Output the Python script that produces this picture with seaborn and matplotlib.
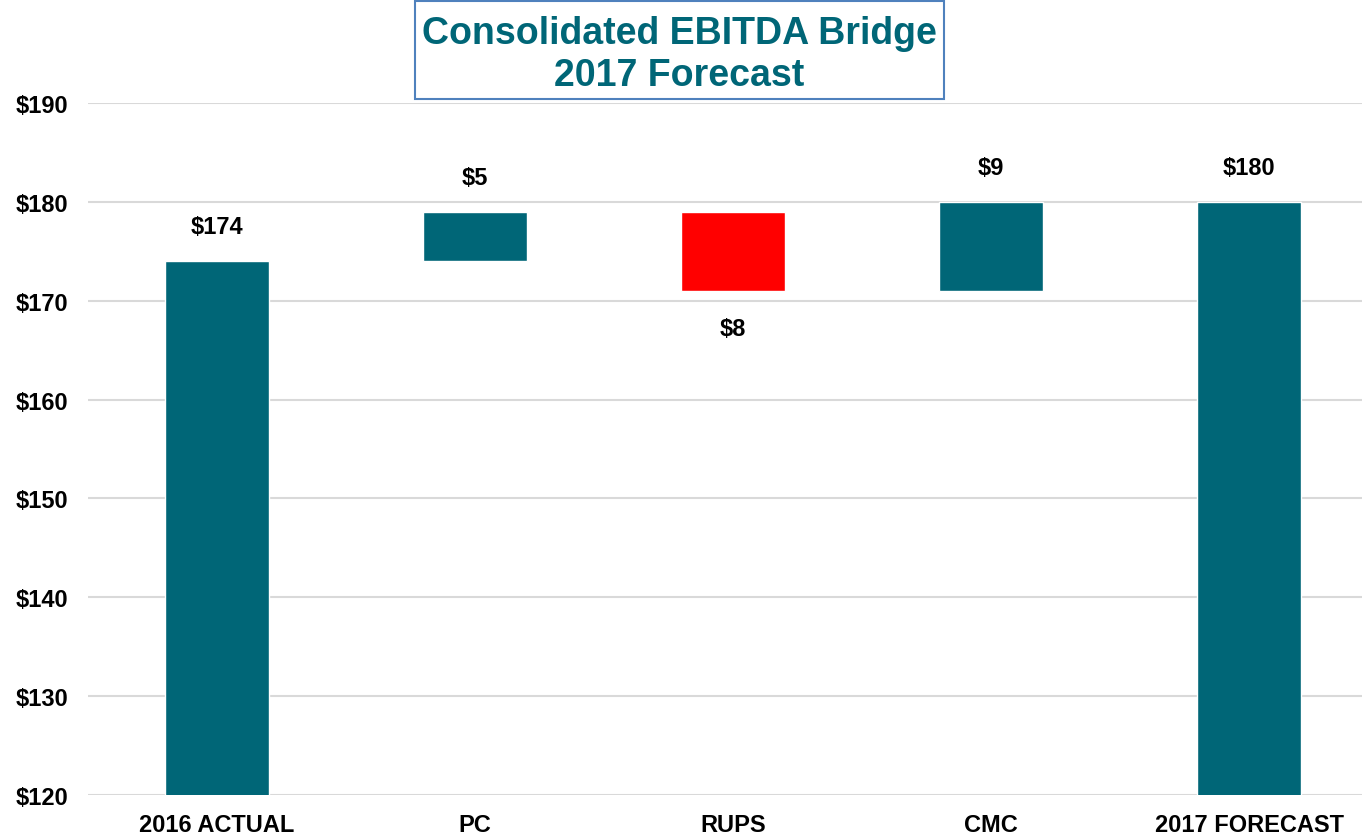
import matplotlib
matplotlib.use("Agg")
import matplotlib.pyplot as plt
import seaborn as sns
import pandas as pd
from matplotlib.patches import Rectangle

# Data
categories = ["2016 ACTUAL", "PC", "RUPS", "CMC", "2017 FORECAST"]
changes = [174, 5, -8, 9, 180]
kinds = ["total", "up", "down", "up", "total"]
labels = ["$174", "$5", "$8", "$9", "$180"]
y_ticks = [120, 130, 140, 150, 160, 170, 180, 190]

TEAL = "#006677"
RED = "#FF0000"

# build waterfall bottoms / tops
bottoms, tops = [], []
running = 0
for c, k in zip(changes, kinds):
    if k == "total":
        bottoms.append(0)
        tops.append(c)
        running = c
    else:
        start = running
        running = running + c
        bottoms.append(min(start, running))
        tops.append(max(start, running))

df = pd.DataFrame({"category": categories, "height": [t - b for t, b in zip(tops, bottoms)],
                   "kind": ["down" if k == "down" else "up" for k in kinds]})

sns.set_theme(style="white")
plt.rcParams["font.family"] = ["Liberation Sans", "DejaVu Sans"]
plt.rcParams["font.weight"] = "bold"

fig = plt.figure(figsize=(13.62, 8.37), dpi=100)
ax = fig.add_axes([88 / 1362, 41 / 837, 1290 / 1362, 692 / 837])

for y in y_ticks:
    ax.axhline(y, color="#d9d9d9", lw=1.5, zorder=0)

sns.barplot(data=df, x="category", y="height", hue="kind", order=categories,
            palette={"up": TEAL, "down": RED}, dodge=False, legend=False,
            width=0.403, saturation=1, ax=ax, zorder=2)

# move floating bars to their base
for p in ax.patches:
    idx = int(round(p.get_x() + p.get_width() / 2))
    p.set_y(bottoms[idx])

for i, (lab, k) in enumerate(zip(labels, kinds)):
    if k == "down":
        ax.annotate(lab, (i, bottoms[i]), xytext=(0, -27), textcoords="offset points",
                    ha="center", va="center", fontsize=17, fontweight="bold", color="black")
    else:
        ax.annotate(lab, (i, tops[i]), xytext=(0, 25), textcoords="offset points",
                    ha="center", va="center", fontsize=17, fontweight="bold", color="black")

ax.set_ylim(120, 190)
ax.set_xlim(-0.5, 4.5)
ax.set_yticks(y_ticks)
ax.set_yticklabels([f"${v}" for v in y_ticks], fontsize=17, fontweight="bold", color="black")
ax.set_xticks(range(len(categories)))
ax.set_xticklabels(categories, fontsize=17, fontweight="bold", color="black")
ax.tick_params(axis="y", length=0, pad=14)
ax.tick_params(axis="x", length=0, pad=13)
ax.set_xlabel("")
ax.set_ylabel("")
sns.despine(ax=ax, left=True, bottom=True)

# title box
fig.patches.append(Rectangle((415 / 1362, 1 - 100 / 837), 529 / 1362, 98 / 837,
                             transform=fig.transFigure, fill=False,
                             edgecolor="#4F81BD", lw=1.5))
fig.text(679.5 / 1362, 1 - 55 / 837, "Consolidated EBITDA Bridge\n2017 Forecast",
         ha="center", va="center", fontsize=27, fontweight="bold", color=TEAL,
         linespacing=1.22)

fig.savefig("out.png", dpi=100)
